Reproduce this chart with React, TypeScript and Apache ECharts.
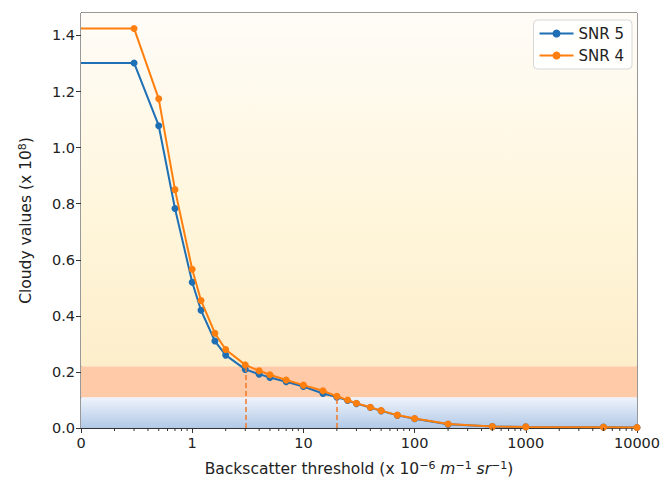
import React, { useEffect, useRef } from "react";
import * as echarts from "echarts";

const thresholds = [0.1, 0.3, 0.5, 0.7, 1, 1.2, 1.6, 2, 3, 4, 5, 7, 10, 15, 20, 25, 30, 40, 50, 70, 100, 200, 500, 1000, 5000, 10000];
const snr5 = [1.302, 1.302, 1.078, 0.783, 0.52, 0.42, 0.31, 0.26, 0.209, 0.192, 0.18, 0.165, 0.148, 0.123, 0.11, 0.098, 0.087, 0.073, 0.061, 0.045, 0.033, 0.013, 0.005, 0.004, 0.003, 0.002];
const snr4 = [1.425, 1.425, 1.174, 0.85, 0.566, 0.455, 0.338, 0.28, 0.225, 0.204, 0.19, 0.171, 0.153, 0.133, 0.113, 0.1, 0.088, 0.074, 0.062, 0.046, 0.034, 0.014, 0.005, 0.004, 0.003, 0.002];
const yTicks = [0, 0.2, 0.4, 0.6, 0.8, 1.0, 1.2, 1.4];
const dashedAt = [3, 20];
const bandLimits = [0, 0.11, 0.22, 1.48];
const minorTicks: number[] = [];
[0.1, 1, 10, 100, 1000].forEach((d) => {
  for (let k = 2; k <= 9; k++) minorTicks.push(d * k);
});

const BLUE = "#1f6fb4";
const ORANGE = "#ff7f0e";

export default function App() {
  const ref = useRef<HTMLDivElement>(null);
  useEffect(() => {
    if (!ref.current) return;
    const chart = echarts.init(ref.current, null, { renderer: "svg" });
    const mk = (vals: number[]) =>
      thresholds.map((x, i) => (i === 0 ? { value: [x, vals[i]], symbol: "none" } : { value: [x, vals[i]] }));
    const font = "DejaVu Sans";
    const titleSize = 15.5;
    const tickSize = 14.5;
    const supStyle = { fontSize: 11, verticalAlign: "top", lineHeight: 8, fontFamily: font, color: "#222" };
    chart.setOption({
      animation: false,
      textStyle: { fontFamily: font },
      grid: {
        left: 81,
        right: 29,
        top: 13,
        bottom: 51,
        outerBoundsMode: "none",
        containLabel: false,
        show: true,
        borderColor: "#333",
        borderWidth: 1,
        backgroundColor: "transparent",
      },
      legend: {
        data: ["SNR 5", "SNR 4"],
        orient: "vertical",
        right: 34,
        top: 20,
        itemWidth: 34,
        itemHeight: 10,
        itemGap: 7,
        padding: [6, 8, 6, 5],
        borderColor: "#d8d8d8",
        borderWidth: 1,
        borderRadius: 4,
        backgroundColor: "rgba(255,255,255,0.85)",
        textStyle: { fontSize: 15, color: "#222", fontFamily: font },
      },
      xAxis: {
        type: "log",
        logBase: 10,
        min: 0.1,
        max: 10000,
        name: "Backscatter threshold (x 10{sup|−6} {it|m}{sup|−1} {it|sr}{sup|−1})",
        nameLocation: "middle",
        nameGap: 32,
        nameTextStyle: {
          fontSize: titleSize,
          lineHeight: 18,
          color: "#222",
          fontFamily: font,
          rich: {
            sup: supStyle,
            it: { fontStyle: "italic", fontSize: titleSize, lineHeight: 18, fontFamily: font, color: "#222" },
          },
        },
        axisLine: { lineStyle: { color: "#333" } },
        axisTick: { lineStyle: { color: "#333" }, length: 5 },
        axisLabel: {
          fontSize: tickSize,
          color: "#222",
          margin: 7,
          formatter: (v: number) => (v < 0.5 ? "0" : String(Math.round(v))),
        },
        splitLine: { show: false },
      },
      yAxis: {
        type: "value",
        min: 0,
        max: 1.48,
        name: "Cloudy values (x 10{sup|8})",
        nameLocation: "middle",
        nameGap: 46,
        nameTextStyle: {
          fontSize: titleSize,
          lineHeight: 18,
          color: "#222",
          fontFamily: font,
          rich: { sup: supStyle },
        },
        axisLine: { show: true, lineStyle: { color: "#333" } },
        axisTick: { show: true, length: 5, lineStyle: { color: "#333" }, customValues: yTicks },
        axisLabel: { fontSize: tickSize, color: "#222", margin: 6, customValues: yTicks, formatter: (v: number) => v.toFixed(1) },
        splitLine: { show: false },
      },
      series: [
        {
          name: "bg",
          type: "line",
          data: [],
          silent: true,
          markArea: {
            silent: true,
            data: [
              [
                {
                  yAxis: bandLimits[0],
                  itemStyle: {
                    color: new echarts.graphic.LinearGradient(0, 0, 0, 1, [
                      { offset: 0, color: "#eff4fc" },
                      { offset: 1, color: "#b2c9e7" },
                    ]),
                  },
                },
                { yAxis: bandLimits[1] },
              ],
              [{ yAxis: bandLimits[1], itemStyle: { color: "#fecaa7" } }, { yAxis: bandLimits[2] }],
              [
                {
                  yAxis: bandLimits[2],
                  itemStyle: {
                    color: new echarts.graphic.LinearGradient(0, 0, 0, 1, [
                      { offset: 0, color: "#fffcf8" },
                      { offset: 0.55, color: "#fff6dc" },
                      { offset: 1, color: "#fdeecb" },
                    ]),
                  },
                },
                { yAxis: bandLimits[3] },
              ],
            ],
          },
        },
        {
          name: "minor",
          type: "custom",
          silent: true,
          data: minorTicks.map((m) => [m, 0]),
          encode: { x: 0, y: 1 },
          renderItem: (params: any, api: any) => {
            const p = api.coord([api.value(0), 0]);
            return {
              type: "line",
              shape: { x1: p[0], y1: p[1], x2: p[0], y2: p[1] + 3 },
              style: { stroke: "#333", lineWidth: 1 },
            };
          },
          z: 10,
        },
        {
          name: "SNR 5",
          type: "line",
          data: mk(snr5),
          symbol: "circle",
          symbolSize: 7,
          color: BLUE,
          lineStyle: { width: 2, color: BLUE },
          z: 3,
        },
        {
          name: "SNR 4",
          type: "line",
          data: mk(snr4),
          symbol: "circle",
          symbolSize: 7,
          color: ORANGE,
          lineStyle: { width: 2, color: ORANGE },
          z: 4,
          markLine: {
            silent: true,
            symbol: "none",
            label: { show: false },
            lineStyle: { type: [5, 3], color: "#f07a2a", width: 1.5 },
            data: dashedAt.map((x) => [
              { coord: [x, 0] },
              { coord: [x, snr4[thresholds.indexOf(x)]] },
            ]),
          },
        },
      ],
    });
    return () => chart.dispose();
  }, []);
  return <div ref={ref} style={{ width: 666, height: 479, position: "absolute", left: 0, top: 0 }} />;
}
